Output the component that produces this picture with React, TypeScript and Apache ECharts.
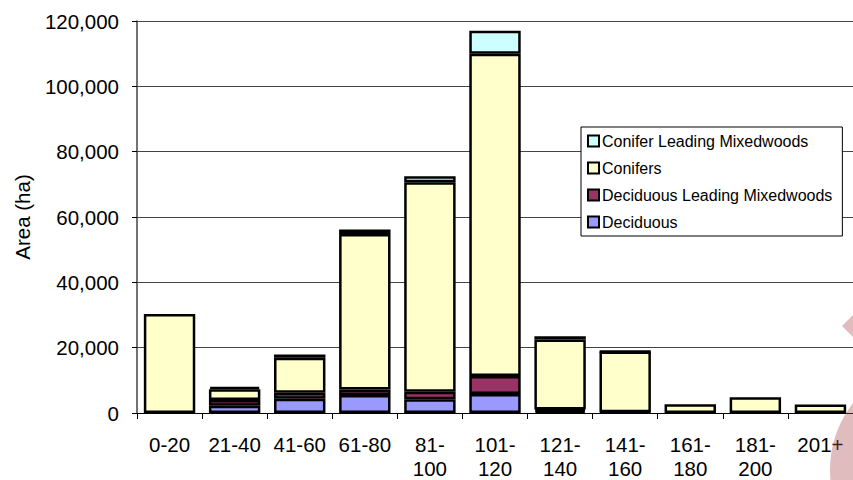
import React, { useEffect, useRef } from "react";
import * as echarts from "echarts";

const categories = ["0-20", "21-40", "41-60", "61-80", "81-100", "101-120", "121-140", "141-160", "161-180", "181-200", "201+"];
const deciduous = [0, 2200, 4400, 5500, 4200, 5800, 600, 200, 0, 0, 0];
const deciduousMixed = [0, 1800, 1800, 1700, 2300, 5500, 500, 0, 0, 0, 0];
const conifers = [30300, 3300, 10700, 47600, 64100, 98700, 21400, 18600, 2700, 4800, 2600];
const coniferMixed = [0, 700, 1000, 1400, 1900, 7000, 1000, 100, 0, 0, 0];
const yTicks = { min: 0, max: 120000, interval: 20000 };

const FONT = 'Arial, "Liberation Sans", sans-serif';
const AXIS_FONT = 20.5;

export default function App() {
  const ref = useRef<HTMLDivElement>(null);
  useEffect(() => {
    if (!ref.current) return;
    const chart = echarts.init(ref.current, undefined, { renderer: "svg" });
    const barStyle = (color: string) => ({ color, borderColor: "#000", borderWidth: 2.5 });
    const mk = (name: string, data: number[], color: string) => ({
      name,
      type: "bar",
      stack: "total",
      data: data.map((v) => (v === 0 ? null : v)),
      barCategoryGap: "21%",
      itemStyle: barStyle(color),
      emphasis: { disabled: true },
    });
    chart.setOption({
      animation: false,
      textStyle: { fontFamily: FONT },
      grid: { left: 137, top: 21, bottom: 63, right: -6, containLabel: false },
      legend: {
        orient: "vertical",
        left: 581,
        top: 127,
        data: ["Conifer Leading Mixedwoods", "Conifers", "Deciduous Leading Mixedwoods", "Deciduous"],
        icon: "rect",
        itemWidth: 11,
        itemHeight: 11,
        itemGap: 11,
        itemStyle: { borderColor: "#000", borderWidth: 2 },
        textStyle: { fontSize: 16, color: "#000", fontFamily: FONT, lineHeight: 16, padding: [0, 0, 0, -2] },
        backgroundColor: "#fff",
        borderColor: "#000",
        borderWidth: 1,
        borderRadius: 0,
        padding: [6, 10, 6, 6],
      },
      xAxis: {
        type: "category",
        data: categories,
        axisLine: { lineStyle: { color: "#000", width: 1 } },
        axisTick: { show: true, length: 6, lineStyle: { color: "#000" } },
        axisLabel: {
          color: "#000",
          fontSize: AXIS_FONT,
          fontFamily: FONT,
          margin: 19,
          lineHeight: 24,
          interval: 0,
          formatter: (v: string) => (v.includes("-") && v.length > 5 ? v.replace("-", "-\n") : v),
        },
      },
      yAxis: {
        type: "value",
        min: yTicks.min,
        max: yTicks.max,
        interval: yTicks.interval,
        name: "Area (ha)",
        nameLocation: "middle",
        nameGap: 104,
        nameTextStyle: { fontSize: AXIS_FONT, color: "#000", fontFamily: FONT },
        axisLine: { show: true, lineStyle: { color: "#444", width: 1.5 } },
        axisTick: { show: true, length: 5, lineStyle: { color: "#000" } },
        axisLabel: {
          color: "#000",
          fontSize: AXIS_FONT,
          fontFamily: FONT,
          margin: 18,
          formatter: (v: number) => v.toLocaleString("en-US"),
        },
        splitLine: { show: true, lineStyle: { color: "#444", width: 1 } },
      },
      series: [
        mk("Deciduous", deciduous, "#9999FF"),
        mk("Deciduous Leading Mixedwoods", deciduousMixed, "#993366"),
        mk("Conifers", conifers, "#FFFFCC"),
        mk("Conifer Leading Mixedwoods", coniferMixed, "#CCFFFF"),
      ],
      graphic: [
        {
          type: "polygon",
          shape: { points: [[842, 326], [870, 298], [898, 326], [870, 354]] },
          style: { fill: "rgba(175,80,88,0.38)" },
          z: 100,
        },
        {
          type: "circle",
          shape: { cx: 939, cy: 470, r: 109 },
          style: { fill: "rgba(175,80,88,0.38)" },
          z: 100,
        },
      ],
    });
    return () => chart.dispose();
  }, []);
  return (
    <div
      ref={ref}
      style={{ position: "fixed", left: 0, top: 0, width: 853, height: 480, background: "#fff" }}
    />
  );
}
